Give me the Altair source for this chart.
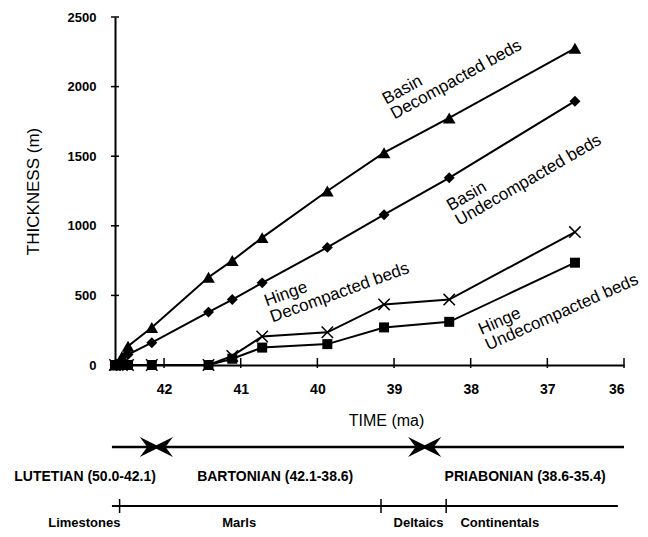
import altair as alt
import pandas as pd

# ---------------- data ----------------
ages = [42.64, 42.55, 42.47, 42.16, 41.42, 41.11, 40.72, 39.87, 39.13, 38.28, 36.64]
basin_decompacted = [0, 60, 135, 270, 630, 750, 915, 1250, 1525, 1775, 2275]
basin_undecompacted = [0, 30, 75, 160, 380, 470, 590, 845, 1080, 1345, 1895]
hinge_decompacted = [0, 0, 0, 0, 0, 65, 205, 235, 435, 470, 955]
hinge_undecompacted = [0, 0, 0, 0, 0, 45, 125, 150, 270, 310, 735]

x_ticks = [42, 41, 40, 39, 38, 37, 36]
y_ticks = [0, 500, 1000, 1500, 2000, 2500]

series_labels = [["Basin", "Decompacted beds"], ["Basin", "Undecompacted beds"],
                 ["Hinge", "Decompacted beds"], ["Hinge", "Undecompacted beds"]]
label_ages = [39.10, 38.26, 40.66, 37.86]
label_vals = [1870, 1104, 420, 215]
label_angles = [331, 330, 340, 336]

stage_names = ["LUTETIAN (50.0-42.1)", "BARTONIAN (42.1-38.6)", "PRIABONIAN (38.6-35.4)"]
stage_label_ages = [43.03, 40.55, 37.29]
stage_bounds = [42.1, 38.6]
stage_line = [42.68, 36.0]

litho_names = ["Limestones", "Marls", "Deltaics", "Continentals"]
litho_label_ages = [43.04, 41.02, 38.68, 37.62]
litho_bounds = [42.58, 39.17, 38.32]
litho_line = [42.68, 36.08]

# ---------------- layout ----------------
W, H = 509, 348
FONT = "Liberation Sans"
XDOM = [42.64, 36.0]

xscale = alt.Scale(domain=XDOM, nice=False, zero=False)
yscale = alt.Scale(domain=[0, 2500], nice=False)

series = [
    ("Basin decompacted", basin_decompacted, "triangle-up", 160, True, 0),
    ("Basin undecompacted", basin_undecompacted, "diamond", 120, True, 0),
    ("Hinge decompacted", hinge_decompacted, "M-1,-1L1,1M-1,1L1,-1", 130, False, 1.5),
    ("Hinge undecompacted", hinge_undecompacted, "square", 100, True, 0),
]

layers = []

rows = []
for name, vals, *_ in series:
    for a, v in zip(ages, vals):
        rows.append({"series": name, "age": a, "val": v})
df = pd.DataFrame(rows)

x_axis = alt.Axis(values=x_ticks, format="d", ticks=False, grid=False,
                  domainColor="black", domainWidth=2,
                  labelFont=FONT, labelFontSize=14, labelFontWeight="bold",
                  labelColor="black", labelPadding=17,
                  title="TIME (ma)", titleFont=FONT, titleFontSize=16,
                  titleFontWeight="normal", titleColor="black",
                  titleX=271, titleY=55, titleAlign="center", titleBaseline="middle")
y_axis = alt.Axis(values=y_ticks, format="d", ticks=False, grid=False,
                  domainColor="black", domainWidth=2,
                  labelFont=FONT, labelFontSize=13, labelFontWeight="bold",
                  labelColor="black", labelPadding=19,
                  title="THICKNESS (m)", titleFont=FONT, titleFontSize=17,
                  titleFontWeight="normal", titleColor="black", titleAngle=270,
                  titleX=-82, titleY=174, titleAlign="center", titleBaseline="middle")

lines = alt.Chart(df).mark_line(color="black", strokeWidth=2).encode(
    x=alt.X("age:Q", scale=xscale, axis=x_axis),
    y=alt.Y("val:Q", scale=yscale, axis=y_axis),
    detail="series:N",
    order="age:Q",
)
layers.append(lines)

for name, vals, shape, size, filled, sw in series:
    d = pd.DataFrame({"age": ages, "val": vals})
    if filled:
        mk = alt.Chart(d).mark_point(shape=shape, size=size, filled=True,
                                     color="black", opacity=1)
    else:
        mk = alt.Chart(d).mark_point(shape=shape, size=size, filled=False,
                                     stroke="black", strokeWidth=sw, opacity=1)
    layers.append(mk.encode(x="age:Q", y="val:Q"))

# crossing ticks on axes
layers.append(alt.Chart(pd.DataFrame({"age": x_ticks})).mark_rule(
    color="black", strokeWidth=1.5).encode(
    x="age:Q", y=alt.value(H - 7), y2=alt.value(H + 3)))
layers.append(alt.Chart(pd.DataFrame({"val": y_ticks})).mark_rule(
    color="black", strokeWidth=1.5).encode(
    y="val:Q", x=alt.value(-4), x2=alt.value(4)))

# series annotations
for txt, a, v, ang in zip(series_labels, label_ages, label_vals, label_angles):
    layers.append(alt.Chart(pd.DataFrame({"age": [a], "val": [v]})).mark_text(
        text=txt, align="left", baseline="alphabetic", angle=ang,
        font=FONT, fontSize=17, lineHeight=17, color="black").encode(
        x="age:Q", y="val:Q"))

# stage time line
layers.append(alt.Chart(pd.DataFrame({"age": [stage_line[0]], "age2": [stage_line[1]]})).mark_rule(
    color="black", strokeWidth=2.5, clip=False).encode(
    x="age:Q", x2="age2:Q", y=alt.value(430)))
layers.append(alt.Chart(pd.DataFrame({"age": stage_bounds})).mark_point(
    shape="M-1,-0.6L0,-0.1L1,-0.6L0.55,0L1,0.6L0,0.1L-1,0.6L-0.55,0Z", size=1100,
    filled=True, color="black", opacity=1, clip=False).encode(
    x="age:Q", y=alt.value(430)))
layers.append(alt.Chart(pd.DataFrame({"age": stage_label_ages, "name": stage_names})).mark_text(
    font=FONT, fontSize=14, fontWeight="bold", color="black", baseline="middle",
    align="center", clip=False).encode(
    x="age:Q", y=alt.value(460), text="name:N"))

# lithology line
layers.append(alt.Chart(pd.DataFrame({"age": [litho_line[0]], "age2": [litho_line[1]]})).mark_rule(
    color="black", strokeWidth=2, clip=False).encode(
    x="age:Q", x2="age2:Q", y=alt.value(489)))
layers.append(alt.Chart(pd.DataFrame({"age": litho_bounds})).mark_rule(
    color="black", strokeWidth=1.5, clip=False).encode(
    x="age:Q", y=alt.value(482), y2=alt.value(496)))
layers.append(alt.Chart(pd.DataFrame({"age": litho_label_ages, "name": litho_names})).mark_text(
    font=FONT, fontSize=13, fontWeight="bold", color="black", baseline="middle",
    align="center", clip=False).encode(
    x="age:Q", y=alt.value(506), text="name:N"))

chart = alt.layer(*layers).properties(
    width=W, height=H,
    autosize=alt.AutoSizeParams(type="none"),
    padding={"left": 107, "top": 9, "right": 16, "bottom": 164},
    background="white",
).configure_view(stroke=None)

chart.save("out.html", embed_options={"renderer": "svg", "actions": False})
